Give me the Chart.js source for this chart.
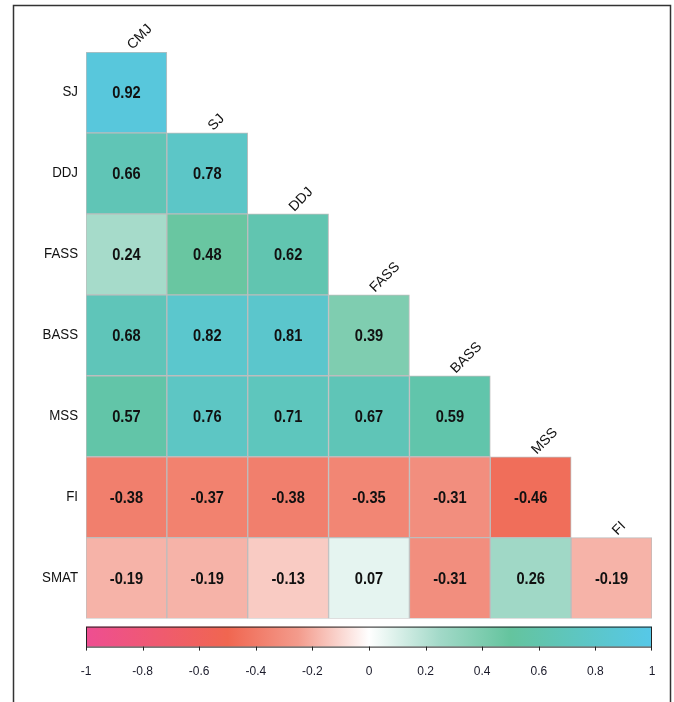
<!DOCTYPE html>
<html>
<head>
<meta charset="utf-8">
<script src="https://cdn.jsdelivr.net/npm/chart.js@4.4.1/dist/chart.umd.min.js"></script>
<style>
  html, body { margin: 0; padding: 0; background: #fff; }
  canvas { display: block; }
</style>
</head>
<body>
<canvas id="corrChart" width="674" height="702"></canvas>
<script>
// variables (rows = lower triangle, columns = upper labels)
const rowLabels = ["SJ", "DDJ", "FASS", "BASS", "MSS", "FI", "SMAT"];
const colLabels = ["CMJ", "SJ", "DDJ", "FASS", "BASS", "MSS", "FI"];

// correlation values, one array per row
const rSJ   = [0.92];
const rDDJ  = [0.66, 0.78];
const rFASS = [0.24, 0.48, 0.62];
const rBASS = [0.68, 0.82, 0.81, 0.39];
const rMSS  = [0.57, 0.76, 0.71, 0.67, 0.59];
const rFI   = [-0.38, -0.37, -0.38, -0.35, -0.31, -0.46];
const rSMAT = [-0.19, -0.19, -0.13, 0.07, -0.31, 0.26, -0.19];
const values = [rSJ, rDDJ, rFASS, rBASS, rMSS, rFI, rSMAT];

// colour bar ticks
const barTicks = [-1, -0.8, -0.6, -0.4, -0.2, 0, 0.2, 0.4, 0.6, 0.8, 1];

// diverging palette stops
const palette = [
  [-1,    [238, 78, 146]],
  [-0.5,  [240, 102, 80]],
  [-0.25, [243, 155, 140]],
  [0,     [255, 255, 255]],
  [0.25,  [162, 217, 200]],
  [0.5,   [100, 196, 158]],
  [1,     [86, 200, 232]]
];

function colorFor(v) {
  for (let k = 0; k < palette.length - 1; k++) {
    const [a, ca] = palette[k];
    const [b, cb] = palette[k + 1];
    if (v >= a && v <= b) {
      const t = (v - a) / (b - a);
      const c = ca.map((x, i) => Math.round(x + (cb[i] - x) * t));
      return `rgb(${c[0]},${c[1]},${c[2]})`;
    }
  }
  return "#fff";
}

// narrow-looking text like the original
function drawText(ctx, txt, x, y, sx) {
  ctx.save();
  ctx.translate(x, y);
  ctx.scale(sx, 1);
  ctx.fillText(txt, 0, 0);
  ctx.restore();
}

// one floating-bar dataset per row
const datasets = values.map((row, i) => ({
  label: rowLabels[i],
  data: colLabels.map((c, j) => (j < row.length ? [i, i + 1] : null)),
  backgroundColor: colLabels.map((c, j) => (j < row.length ? colorFor(row[j]) : "transparent")),
  borderColor: "#bdbdbd",
  borderWidth: 1,
  borderSkipped: false,
  barPercentage: 1,
  categoryPercentage: 1,
  grouped: false
}));

const labelPlugin = {
  id: "corrLabels",
  beforeDraw(chart) {
    const ctx = chart.ctx;
    ctx.save();
    ctx.strokeStyle = "#333";
    ctx.lineWidth = 1.5;
    ctx.strokeRect(13.5, 5.5, 657, 760);
    ctx.restore();
  },
  afterDatasetsDraw(chart) {
    const ctx = chart.ctx;
    const ys = chart.scales.y;
    const area = chart.chartArea;
    ctx.save();

    // values inside cells
    ctx.font = "bold 17px 'Liberation Sans', Arial, sans-serif";
    ctx.fillStyle = "#111";
    ctx.textAlign = "center";
    ctx.textBaseline = "middle";
    values.forEach((row, i) => {
      const meta = chart.getDatasetMeta(i);
      row.forEach((v, j) => {
        const bar = meta.data[j];
        drawText(ctx, v.toFixed(2), bar.x, (bar.y + bar.base) / 2 + 1, 0.86);
      });
    });

    // row labels
    ctx.font = "14px 'Liberation Sans', Arial, sans-serif";
    ctx.textAlign = "right";
    rowLabels.forEach((lab, i) => {
      drawText(ctx, lab, area.left - 8, ys.getPixelForValue(i + 0.5), 0.95);
    });

    // diagonal column labels
    colLabels.forEach((lab, j) => {
      const bar = chart.getDatasetMeta(j).data[j];
      ctx.save();
      ctx.translate(bar.x + 6, ys.getPixelForValue(j) - 2);
      ctx.rotate(-Math.PI / 4);
      ctx.textAlign = "left";
      ctx.textBaseline = "alphabetic";
      ctx.fillText(lab, 0, 0);
      ctx.restore();
    });

    // colour bar with its tick marks
    const cb = chart.scales.cb;
    const top = area.bottom + 8;
    const h = 20;
    const grad = ctx.createLinearGradient(cb.left, 0, cb.right, 0);
    palette.forEach(([v, c]) => grad.addColorStop((v + 1) / 2, `rgb(${c[0]},${c[1]},${c[2]})`));
    ctx.fillStyle = grad;
    ctx.fillRect(cb.left, top, cb.right - cb.left, h);
    ctx.strokeStyle = "#222";
    ctx.lineWidth = 1;
    ctx.strokeRect(cb.left + 0.5, top + 0.5, cb.right - cb.left - 1, h);
    ctx.beginPath();
    barTicks.forEach(v => {
      const x = Math.min(Math.round(cb.getPixelForValue(v)) + 0.5, cb.right - 0.5);
      ctx.moveTo(x, top + h);
      ctx.lineTo(x, top + h + 4);
    });
    ctx.stroke();
    ctx.restore();
  }
};

new Chart(document.getElementById("corrChart"), {
  type: "bar",
  data: { labels: colLabels, datasets: datasets },
  options: {
    responsive: false,
    animation: false,
    layout: { padding: { left: 86, top: 52, right: 22, bottom: 8 } },
    plugins: { legend: { display: false }, tooltip: { enabled: false } },
    scales: {
      x: { type: "category", display: false },
      y: { type: "linear", min: 0, max: 7, reverse: true, display: false },
      cb: {
        type: "linear",
        axis: "x",
        position: "bottom",
        min: -1,
        max: 1,
        offset: false,
        afterBuildTicks: (scale) => { scale.ticks = barTicks.map(v => ({ value: v })); },
        border: { display: false },
        grid: { offset: false, drawOnChartArea: false, tickLength: 31, tickColor: "rgba(0,0,0,0)" },
        ticks: {
          padding: 15,
          color: "#1a1a2a",
          maxRotation: 0,
          autoSkip: false,
          font: { size: 12, family: "'Liberation Sans', Arial, sans-serif" },
          callback: (v) => String(Math.round(v * 10) / 10)
        }
      }
    }
  },
  plugins: [labelPlugin]
});
</script>
</body>
</html>
